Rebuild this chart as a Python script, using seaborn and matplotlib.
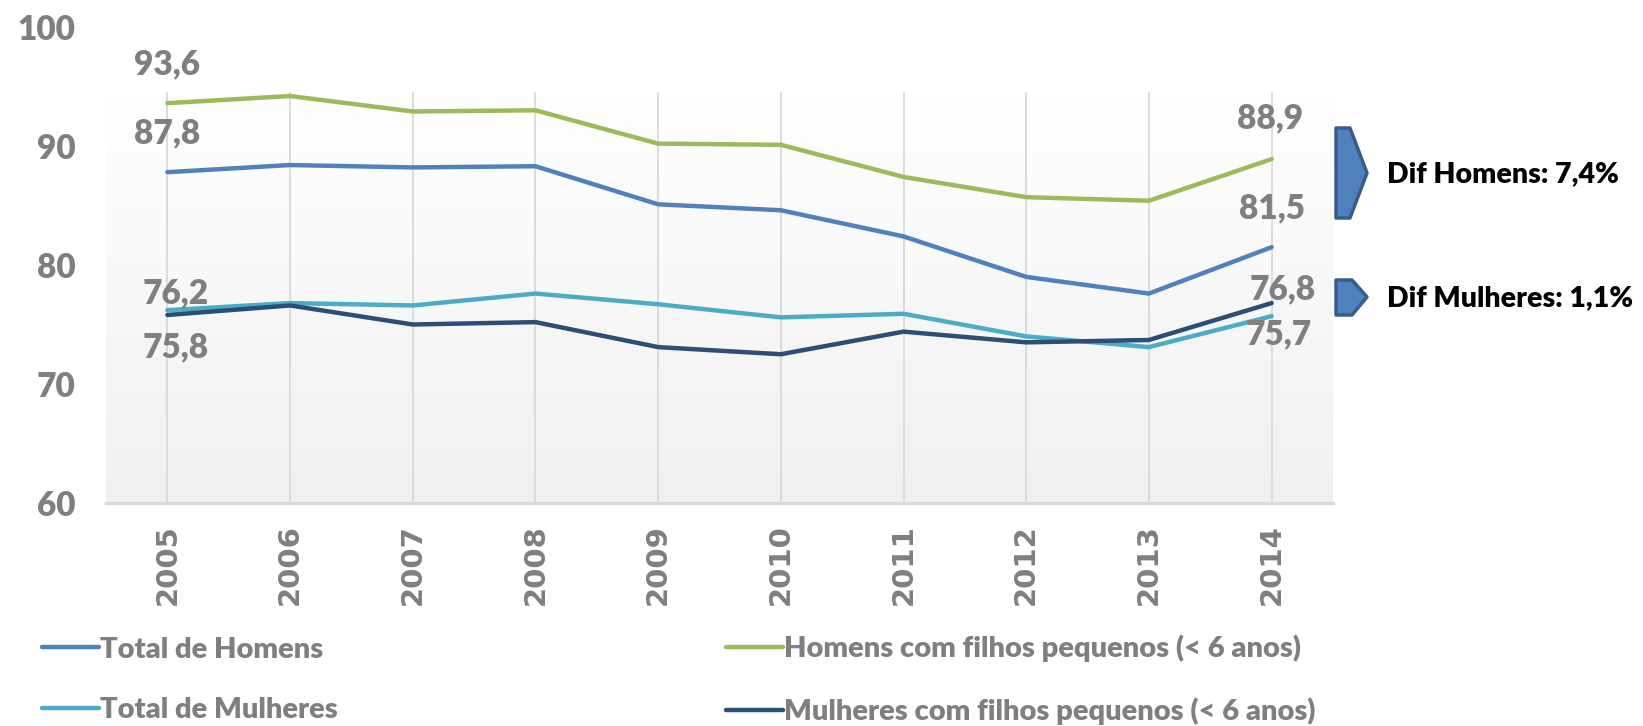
import numpy as np
import pandas as pd
import matplotlib
matplotlib.use("Agg")
import matplotlib.pyplot as plt
import seaborn as sns
from matplotlib.colors import LinearSegmentedColormap
from matplotlib.patches import Polygon

# ---------------- data ----------------
years = [2005, 2006, 2007, 2008, 2009, 2010, 2011, 2012, 2013, 2014]
total_homens = [87.8, 88.4, 88.2, 88.3, 85.1, 84.6, 82.4, 79.0, 77.6, 81.5]
homens_filhos = [93.6, 94.2, 92.9, 93.0, 90.2, 90.1, 87.4, 85.7, 85.4, 88.9]
total_mulheres = [76.2, 76.8, 76.6, 77.6, 76.7, 75.6, 75.9, 74.0, 73.1, 75.7]
mulheres_filhos = [75.8, 76.6, 75.0, 75.2, 73.1, 72.5, 74.4, 73.5, 73.7, 76.8]
series_names = ["Total de Homens", "Homens com filhos pequenos (< 6 anos)",
                "Total de Mulheres", "Mulheres com filhos pequenos (< 6 anos)"]
y_ticks = [60, 70, 80, 90, 100]
dif_labels = ["Dif Homens: 7,4%", "Dif Mulheres: 1,1%"]

colors = {series_names[0]: "#4F81BD", series_names[1]: "#9BBB59",
          series_names[2]: "#4BACC6", series_names[3]: "#2C4D75"}
GREY = "#7F7F7F"
WEIGHT = "heavy"

df = pd.concat([
    pd.DataFrame({"Ano": years, "Valor": vals, "Serie": name})
    for name, vals in zip(series_names,
                          [total_homens, homens_filhos, total_mulheres, mulheres_filhos])
], ignore_index=True)

# ---------------- figure ----------------
sns.set_style("white")
plt.rcParams["font.family"] = ["Lato", "DejaVu Sans"]

W, H = 1643, 726
fig = plt.figure(figsize=(W / 100, H / 100), dpi=100)
ax = fig.add_axes([106 / W, 1 - 503 / H, 1227 / W, 476 / H])

area_top = 94.5  # visible plot-area top (value units)

# gradient plot-area background
cmap = LinearSegmentedColormap.from_list("bg", ["#FFFFFF", "#F0F0F0"])
ax.imshow(np.linspace(0, 1, 256).reshape(-1, 1), cmap=cmap, aspect="auto",
          extent=[2004.5, 2014.5, 60, area_top], origin="upper", zorder=0)
ax.vlines(years, 60, area_top, color="#D9D9D9", linewidth=1.3, zorder=1)

sns.lineplot(data=df, x="Ano", y="Valor", hue="Serie", palette=colors,
             hue_order=series_names, linewidth=3.2, ax=ax, legend=False,
             sort=False, zorder=3)

ax.set_xlim(2004.5, 2014.5)
ax.set_ylim(60, 100)
ax.set_xticks(years)
ax.set_xticklabels([str(y) for y in years], rotation=90, fontsize=21,
                   fontweight="bold", color=GREY, family="DejaVu Sans")
ax.set_yticks(y_ticks)
ax.set_yticklabels([str(v) for v in y_ticks], fontsize=24, fontweight=WEIGHT,
                   color=GREY)
ax.tick_params(axis="both", length=0)
ax.tick_params(axis="y", pad=22)
ax.tick_params(axis="x", pad=15)
ax.set_xlabel("")
ax.set_ylabel("")
ax.grid(False)
for s in ["left", "right", "top"]:
    ax.spines[s].set_visible(False)
ax.spines["bottom"].set_color("#D9D9D9")
ax.spines["bottom"].set_linewidth(2.2)

# data labels (first and last year)
def fmt(v):
    return f"{v:.1f}".replace(".", ",")

label_specs = [  # (series values, index, dx pt, dy pt)
    (homens_filhos, 0, 0, 28), (total_homens, 0, 0, 28),
    (total_mulheres, 0, 6, 12), (mulheres_filhos, 0, 6, -23),
    (homens_filhos, 9, -1, 29), (total_homens, 9, 0, 28),
    (mulheres_filhos, 9, 8, 10), (total_mulheres, 9, 5, -13),
]
for vals, i, dx, dy in label_specs:
    ax.annotate(fmt(vals[i]), xy=(years[i], vals[i]), xytext=(dx, dy),
                textcoords="offset points", ha="center", va="center",
                fontsize=24, fontweight=WEIGHT, color=GREY, zorder=5)

# right-hand arrow markers and texts
arrows = [
    [(1336, 128), (1350, 128), (1367, 173), (1350, 218), (1336, 218)],
    [(1336, 280), (1352, 280), (1367, 297), (1352, 315), (1336, 315)],
]
text_y = [174, 298]
for pts, ty, txt in zip(arrows, text_y, dif_labels):
    poly = Polygon([(x / W, 1 - y / H) for x, y in pts], closed=True,
                   transform=fig.transFigure, facecolor="#4F81BD",
                   edgecolor="#385D8A", linewidth=2.5, joinstyle="round")
    fig.patches.append(poly)
    fig.text(1387 / W, 1 - ty / H, txt, fontsize=20.5, fontweight=WEIGHT,
             color="black", va="center", ha="left")

# legend: two columns
lines = {name: ln for name, ln in zip(series_names, ax.get_lines())}
leg_kw = dict(frameon=False, handlelength=1.95, handletextpad=0.05,
              labelspacing=1.2, borderpad=0, borderaxespad=0, loc="center left",
              prop={"size": 21, "weight": WEIGHT}, labelcolor=GREY)
leg1 = fig.legend([lines[series_names[0]], lines[series_names[2]]],
                  [series_names[0], series_names[2]],
                  bbox_to_anchor=(42 / W, 1 - 680 / H), **leg_kw)
leg2 = fig.legend([lines[series_names[1]], lines[series_names[3]]],
                  [series_names[1], series_names[3]],
                  bbox_to_anchor=(726 / W, 1 - 680 / H), **leg_kw)

fig.savefig("out.png", dpi=100)
